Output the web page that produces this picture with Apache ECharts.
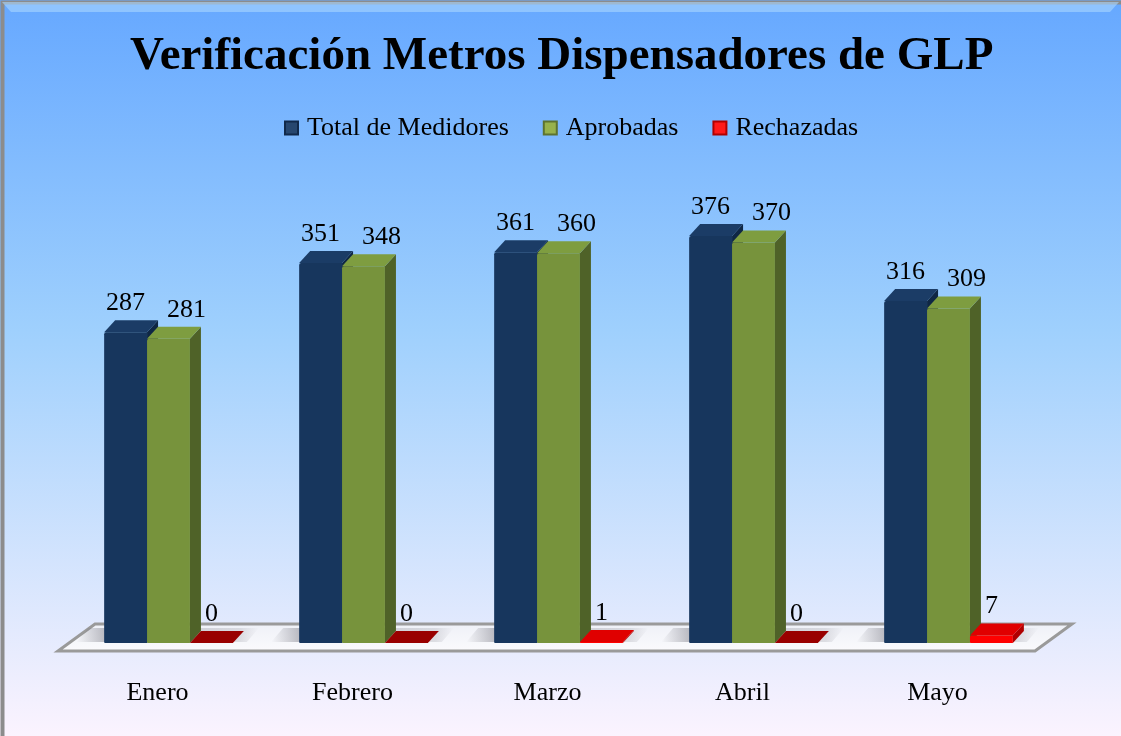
<!DOCTYPE html>
<html lang="es">
<head>
    <meta charset="UTF-8">
    <title>Verificación Metros Dispensadores de GLP</title>
    <script src="https://cdn.jsdelivr.net/npm/echarts@6/dist/echarts.min.js"></script>
    <style>
        body { margin: 0; }
        #chart { width: 1121px; height: 736px; }
    </style>
</head>
<body>
    <div id="chart"></div>
</body>
<script type="text/javascript">
    // data
    const months = ['Enero', 'Febrero', 'Marzo', 'Abril', 'Mayo'];
    const totalMedidores = [287, 351, 361, 376, 316];
    const aprobadas = [281, 348, 360, 370, 309];
    const rechazadas = [0, 0, 1, 0, 7];

    const FONT = '"Liberation Serif", "Times New Roman", serif';
    const DX = 11, DY = 12;   // depth of the fake 3d bars

    let chart = echarts.init(document.getElementById('chart'));

    // one bar = front face + right side + top
    function barRenderer(slot, col, labelShift) {
        return function (params, api) {
            let idx = api.value(0);
            let val = api.value(1);
            let base = api.coord([idx, 0]);
            let top = api.coord([idx, val]);
            let band = api.size([1, 0])[0];
            let w = band * 0.22;
            let x0 = base[0] + band * (-0.33 + slot * 0.22);
            let x1 = x0 + w;
            let yb = base[1], yt = top[1];
            let kids = [];
            if (slot === 0) {
                // soft shadow of the group on the floor
                kids.push({
                    type: 'polygon',
                    shape: { points: [[x0 - 28, yb - 1], [x0 + 3 * w + 14, yb - 1], [x0 + 3 * w + 26, yb - 15], [x0 - 16, yb - 15]] },
                    style: {
                        fill: new echarts.graphic.LinearGradient(0, 0, 1, 0, [
                            { offset: 0, color: 'rgba(120,120,130,0)' },
                            { offset: 0.15, color: 'rgba(120,120,130,0.45)' },
                            { offset: 0.9, color: 'rgba(120,120,130,0.2)' },
                            { offset: 1, color: 'rgba(120,120,130,0)' }
                        ])
                    }
                });
            }
            if (yb - yt > 0.5) {
                kids.push({
                    type: 'rect',
                    shape: { x: x0, y: yt, width: w, height: yb - yt, r: [2, 0, 0, 1] },
                    style: { fill: col.front }
                });
                kids.push({
                    type: 'polygon',
                    shape: { points: [[x1, yb], [x1 + DX, yb - DY], [x1 + DX, yt - DY], [x1, yt]] },
                    style: { fill: col.side }
                });
            }
            kids.push({
                type: 'polygon',
                shape: { points: [[x0, yt], [x0 + DX, yt - DY], [x1 + DX, yt - DY], [x1, yt]] },
                style: { fill: val === 0 && col.flat ? col.flat : col.top }
            });
            kids.push({
                type: 'text',
                style: {
                    text: String(val),
                    x: x0 + w / 2 + labelShift,
                    y: yt - DY - 4,
                    align: 'center',
                    verticalAlign: 'bottom',
                    font: '26px ' + FONT,
                    fill: '#000'
                }
            });
            return { type: 'group', children: kids };
        };
    }

    // the grey floor under the bars
    function floorRenderer(params, api) {
        let cs = params.coordSys;
        let yb = api.coord([0, 0])[1];
        let fl = [cs.x - 13, yb + 8];
        let fr = [cs.x + cs.width - 11, yb + 8];
        let bl = [fl[0] + 37, fl[1] - 27];
        let br = [fr[0] + 37, fr[1] - 27];
        return {
            type: 'polygon',
            shape: { points: [fl, fr, br, bl] },
            style: {
                fill: new echarts.graphic.LinearGradient(0, 0, 0, 1, [
                    { offset: 0, color: '#eef0f7' },
                    { offset: 1, color: '#fbfbfd' }
                ]),
                stroke: '#9a9a9a',
                lineWidth: 3
            }
        };
    }

    const blue = { front: '#17365d', side: '#0f2744', top: '#1b3c66' };
    const green = { front: '#77933c', side: '#4f6228', top: '#7e9d40' };
    const red = { front: '#ff0000', side: '#b00000', top: '#e00000', flat: '#990000' };

    function pairs(arr) {
        return arr.map((v, i) => [i, v]);
    }

    let option = {
        backgroundColor: new echarts.graphic.LinearGradient(0, 0, 0, 1, [
            { offset: 0, color: '#66a8ff' },
            { offset: 0.45, color: '#9fd0fd' },
            { offset: 1, color: '#fbf3fe' }
        ]),
        title: {
            text: 'Verificación Metros Dispensadores de GLP',
            left: 125,
            top: 28,
            textStyle: { fontFamily: FONT, fontWeight: 'bold', fontSize: 47, color: '#000' }
        },
        legend: {
            top: 110,
            left: 279,
            icon: 'rect',
            itemWidth: 13,
            itemHeight: 13,
            itemGap: 34,
            textStyle: { fontFamily: FONT, fontSize: 26, color: '#000', padding: [0, 0, 0, 4] },
            data: ['Total de Medidores', 'Aprobadas', 'Rechazadas']
        },
        grid: { left: 71, right: 75, top: 210, bottom: 93 },
        xAxis: {
            type: 'category',
            data: months,
            axisLine: { show: false },
            axisTick: { show: false },
            axisLabel: {
                margin: 37,
                padding: [0, 22, 0, 0],
                fontFamily: FONT,
                fontSize: 26,
                color: '#000'
            }
        },
        yAxis: {
            type: 'value',
            min: 0,
            max: 400,
            show: false
        },
        series: [
            {
                type: 'custom',
                name: 'floor',
                z: 1,
                silent: true,
                renderItem: floorRenderer,
                data: [[0, 0]]
            },
            {
                type: 'custom',
                name: 'Total de Medidores',
                z: 2,
                itemStyle: { color: '#27476f', borderColor: '#11294a', borderWidth: 1 },
                renderItem: barRenderer(0, blue, 0),
                encode: { x: 0, y: 1 },
                data: pairs(totalMedidores)
            },
            {
                type: 'custom',
                name: 'Aprobadas',
                z: 3,
                itemStyle: { color: '#97b24c', borderColor: '#5d7330', borderWidth: 1 },
                renderItem: barRenderer(1, green, 18),
                encode: { x: 0, y: 1 },
                data: pairs(aprobadas)
            },
            {
                type: 'custom',
                name: 'Rechazadas',
                z: 4,
                itemStyle: { color: '#ff1a1a', borderColor: '#b00000', borderWidth: 1 },
                renderItem: barRenderer(2, red, 0),
                encode: { x: 0, y: 1 },
                data: pairs(rechazadas)
            }
        ],
        graphic: [
            {
                type: 'rect',
                left: 0, top: 0,
                shape: { width: 1121, height: 736 },
                style: { fill: 'none', stroke: '#8c8c8c', lineWidth: 4 },
                silent: true
            },
            {
                type: 'polygon',
                shape: { points: [[2, 2], [1119, 2], [1110, 12], [11, 12]] },
                style: { fill: 'rgba(170, 215, 255, 0.6)' },
                silent: true
            }
        ]
    };

    chart.setOption(option);
</script>
</html>
